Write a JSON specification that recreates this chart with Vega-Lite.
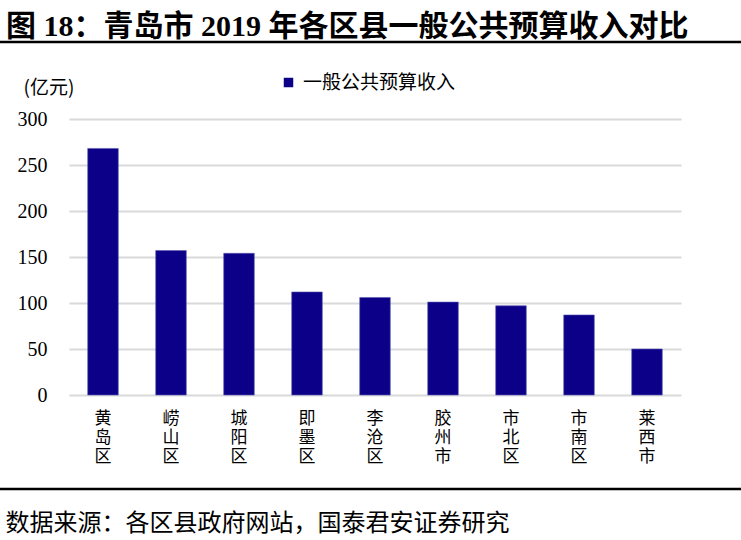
{
  "$schema": "https://vega.github.io/schema/vega-lite/v6.json",
  "description": "Qingdao 2019 general public budget revenue by district",
  "autosize": "none",
  "width": 612,
  "height": 276,
  "padding": {"left": 69, "top": 119, "right": 60, "bottom": 145},
  "background": "white",
  "view": {"stroke": null},

  "title": {
    "text": "图 18：青岛市 2019 年各区县一般公共预算收入对比",
    "font": "Liberation Serif, Noto Sans CJK SC",
    "fontSize": 30,
    "fontWeight": "bold",
    "color": "black",
    "anchor": "start",
    "frame": "group",
    "dx": -63,
    "dy": 1,
    "offset": 0
  },

  "data": {
    "values": [
      {"district": "黄岛区", "revenue": 268},
      {"district": "崂山区", "revenue": 157},
      {"district": "城阳区", "revenue": 154},
      {"district": "即墨区", "revenue": 112},
      {"district": "李沧区", "revenue": 106},
      {"district": "胶州市", "revenue": 101},
      {"district": "市北区", "revenue": 97},
      {"district": "市南区", "revenue": 87},
      {"district": "莱西市", "revenue": 50}
    ]
  },

  "layer": [
    {
      "mark": {"type": "bar", "color": "#0c0088", "stroke": "#5b59b3", "strokeWidth": 0.6},
      "encoding": {
        "x": {
          "field": "district",
          "type": "nominal",
          "sort": null,
          "scale": {"paddingInner": 0.55},
          "axis": {
            "title": "数据来源：各区县政府网站，国泰君安证券研究",
            "titleFont": "Noto Sans CJK SC",
            "titleFontSize": 24,
            "titleFontWeight": "normal",
            "titleColor": "black",
            "titleAnchor": "start",
            "titleAlign": "left",
            "titleBaseline": "middle",
            "titleX": -64,
            "titleY": 128,
            "domain": false,
            "ticks": false,
            "tickSize": 0,
            "labelAngle": 0,
            "labelPadding": 15,
            "labelFont": "Noto Sans CJK SC",
            "labelFontSize": 17,
            "labelLineHeight": 19,
            "labelColor": "black",
            "labelExpr": "split(datum.label, '')"
          }
        },
        "y": {
          "field": "revenue",
          "type": "quantitative",
          "scale": {"domain": [0, 300], "nice": false},
          "axis": {
            "values": [0, 50, 100, 150, 200, 250, 300],
            "title": "(亿元)",
            "titleFont": "Noto Sans CJK SC",
            "titleFontSize": 19,
            "titleFontWeight": "normal",
            "titleColor": "black",
            "titleAngle": 0,
            "titleAlign": "left",
            "titleBaseline": "middle",
            "titleX": -46,
            "titleY": -32,
            "domain": false,
            "ticks": false,
            "tickSize": 0,
            "labelPadding": 22,
            "labelFont": "Liberation Serif",
            "labelFontSize": 20,
            "labelColor": "black",
            "grid": true,
            "gridColor": "#d9d9d9",
            "gridWidth": 2
          }
        },
        "color": {
          "datum": "一般公共预算收入",
          "scale": {"range": ["#0c0088"]},
          "legend": {
            "title": null,
            "orient": "none",
            "legendX": 210,
            "legendY": -46,
            "symbolType": "square",
            "symbolSize": 90,
            "symbolStrokeWidth": 0,
            "labelFont": "Noto Sans CJK SC",
            "labelFontSize": 19,
            "labelColor": "black",
            "labelOffset": 5
          }
        }
      }
    },
    {
      "data": {"values": [{}]},
      "mark": {"type": "rule", "clip": false, "color": "black", "strokeWidth": 2.5},
      "encoding": {
        "x": {"value": -69},
        "x2": {"value": 672},
        "y": {"value": -77}
      }
    },
    {
      "data": {"values": [{}]},
      "mark": {"type": "rule", "clip": false, "color": "black", "strokeWidth": 2.5},
      "encoding": {
        "x": {"value": -69},
        "x2": {"value": 672},
        "y": {"value": 370}
      }
    }
  ]
}
